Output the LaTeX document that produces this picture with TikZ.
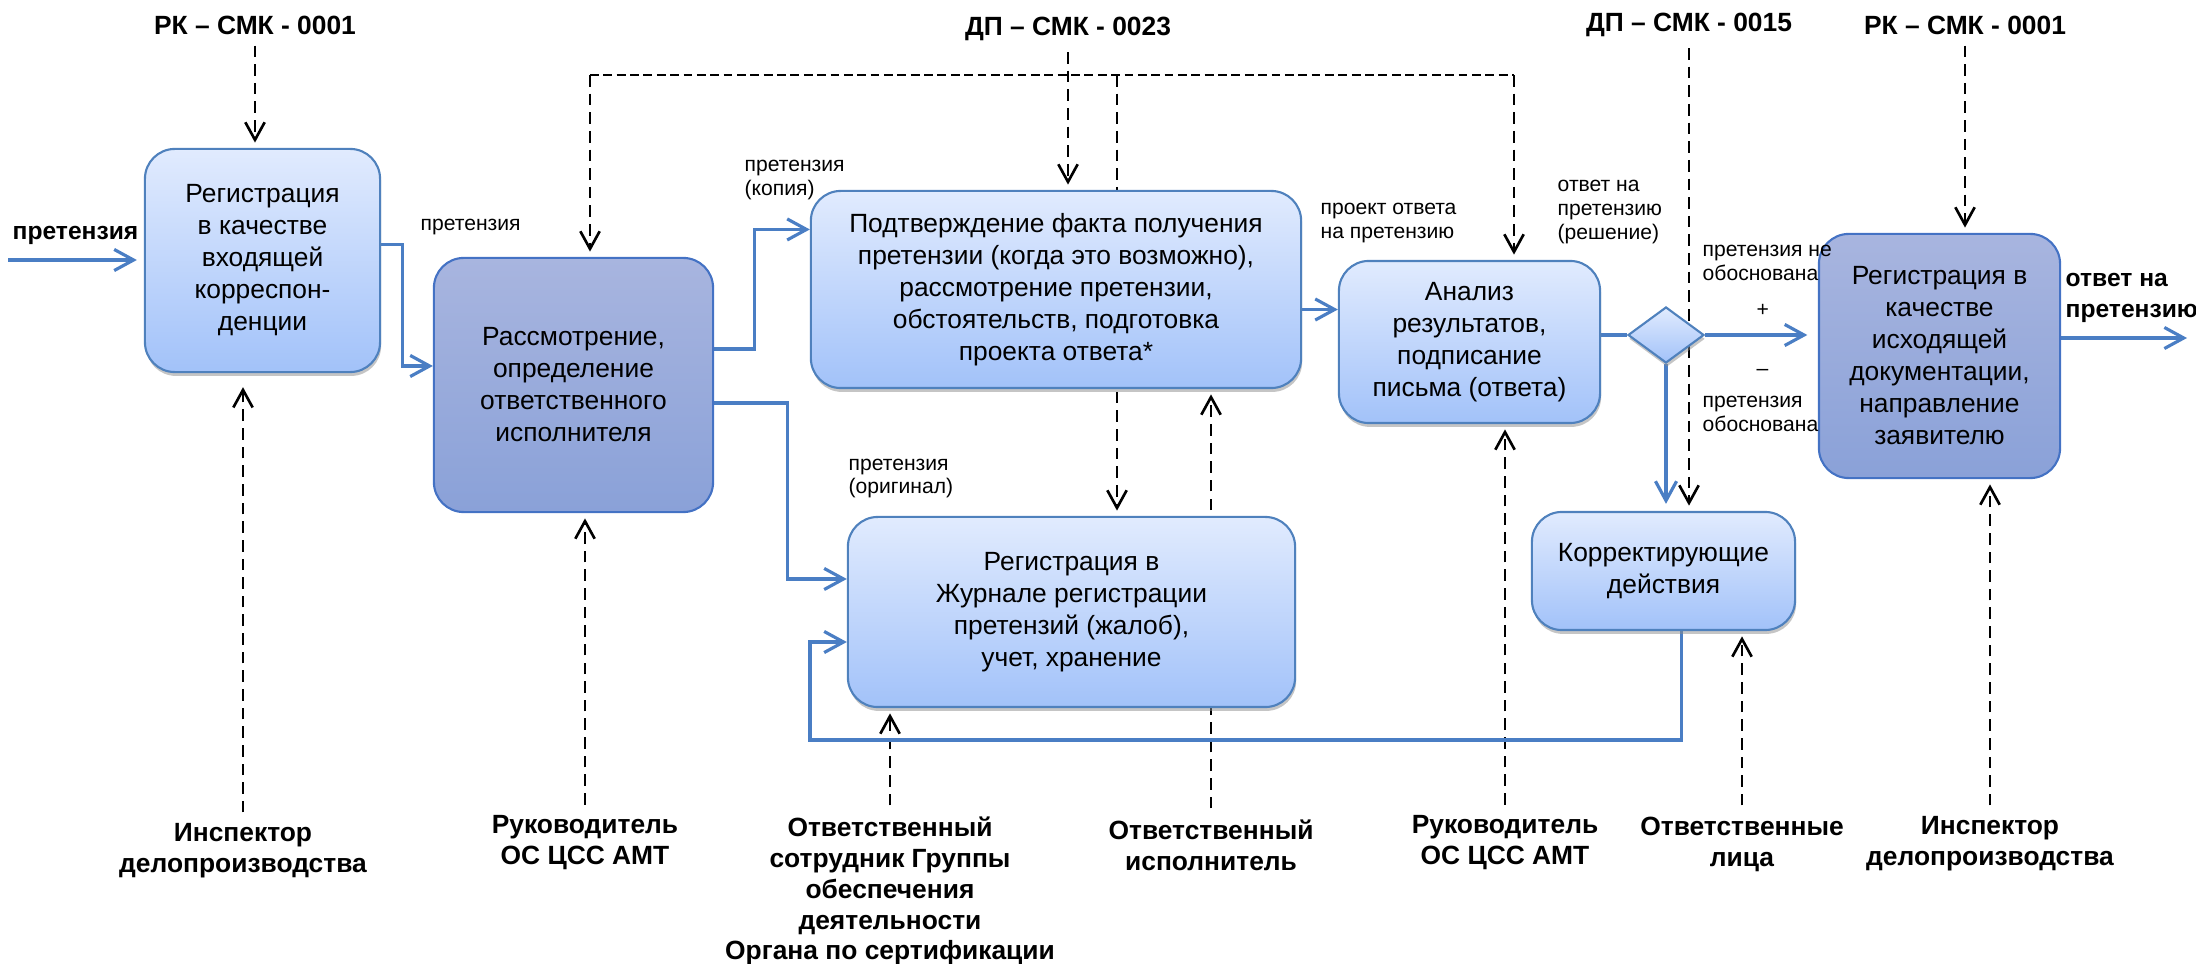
\documentclass[tikz,border=0pt]{standalone}
\usepackage{fontspec}
\setmainfont{Liberation Sans}
\usetikzlibrary{arrows.meta, calc, shapes.geometric, shadows, backgrounds}
\definecolor{lighttop}{HTML}{E1EBFE}
\definecolor{lightbottom}{HTML}{A2C2F9}
\definecolor{lightline}{HTML}{4F81BD}
\definecolor{darktop}{HTML}{A8B5DF}
\definecolor{darkbottom}{HTML}{8AA1D8}
\definecolor{darkline}{HTML}{4472C4}
\definecolor{flowblue}{HTML}{4A7EC4}
\newcommand{\boxtxt}{\fontsize{7.5}{9.1}\selectfont}
\newcommand{\notetxt}{\fontsize{6}{6.8}\selectfont}
\newcommand{\roletxt}{\fontsize{7.5}{8.8}\selectfont\bfseries}

\begin{document}
\begin{tikzpicture}[x=0.01cm, y=-0.01cm,
    lightbox/.style={rounded corners=8.5pt, draw=lightline, line width=0.6pt,
        top color=lighttop, bottom color=lightbottom, align=center, font=\boxtxt,
        drop shadow={shadow xshift=0.3pt, shadow yshift=-1.1pt, fill=black!45}},
    darkbox/.style={rounded corners=8.5pt, draw=darkline, line width=0.6pt,
        top color=darktop, bottom color=darkbottom, align=center, font=\boxtxt},
    decision/.style={diamond, draw=lightline, line width=0.6pt, aspect=1.36,
        minimum width=0.76cm, minimum height=0.56cm, inner sep=0pt,
        top color=lighttop, bottom color=lightbottom,
        drop shadow={shadow xshift=0.3pt, shadow yshift=-1.1pt, fill=black!45}},
    role/.style={align=center, font=\roletxt, inner sep=3pt},
    note/.style={align=left, font=\notetxt, inner sep=0pt, anchor=west},
    flow/.style={draw=flowblue, line width=0.9pt, -{Straight Barb[length=5.5pt,width=6pt]}},
    ctrl/.style={black, line width=0.75pt, dash pattern=on 3.3pt off 2pt,
        -{Straight Barb[length=5pt,width=5.5pt]}, shorten >=1.5pt},
    busline/.style={black, line width=0.45pt, dash pattern=on 2.5pt off 1.3pt}]
    \useasboundingbox (0,0) rectangle (2196,964);

    \node[lightbox, minimum width=2.35cm, minimum height=2.23cm] (reg) at (262.5,260.5)
        {Регистрация\\в качестве\\входящей\\корреспон-\\денции};
    \node[darkbox, minimum width=2.79cm, minimum height=2.54cm] (rass) at (573.5,385)
        {Рассмотрение,\\определение\\ответственного\\исполнителя};
    \node[lightbox, minimum width=4.9cm, minimum height=1.97cm] (podtv) at (1056,289.5)
        {Подтверждение факта получения\\претензии (когда это возможно),\\рассмотрение претензии,\\обстоятельств, подготовка\\проекта ответа*};
    \node[lightbox, minimum width=4.47cm, minimum height=1.9cm] (zhurnal) at (1071.5,612)
        {Регистрация в\\Журнале регистрации\\претензий (жалоб),\\учет, хранение};
    \node[lightbox, minimum width=2.61cm, minimum height=1.62cm] (analiz) at (1469.5,342)
        {Анализ\\результатов,\\подписание\\письма (ответа)};
    \node[decision] (dia) at (1666,335) {};
    \node[lightbox, minimum width=2.63cm, minimum height=1.18cm] (korr) at (1663.5,571)
        {Корректирующие\\действия};
    \node[darkbox, minimum width=2.41cm, minimum height=2.44cm] (iskh) at (1939.5,356)
        {Регистрация в\\качестве\\исходящей\\документации,\\направление\\заявителю};

    \node[role] (rk1) at (255,25) {РК – СМК - 0001};
    \node[role] (dp23) at (1068,29) {ДП – СМК - 0023};
    \node[role] (dp15) at (1689,25) {ДП – СМК - 0015};
    \node[role] (rk2) at (1965,25) {РК – СМК - 0001};

    \node[role] (insp1) at (243,851) {Инспектор\\делопроизводства};
    \node[role] (ruk1) at (585,843) {Руководитель\\ОС ЦСС АМТ};
    \node[role] (otvs) at (890,891) {Ответственный\\сотрудник Группы\\обеспечения\\деятельности\\Органа по сертификации};
    \node[role] (otvi) at (1211,845) {Ответственный\\исполнитель};
    \node[role] (ruk2) at (1505,843) {Руководитель\\ОС ЦСС АМТ};
    \node[role] (otvl) at (1742,844) {Ответственные\\лица};
    \node[role] (insp2) at (1990,844) {Инспектор\\делопроизводства};

    \node[note, font=\fontsize{7}{8}\selectfont\bfseries] (inlbl) at (12,235) {претензия};
    \node[note] (l1) at (420,227) {претензия};
    \node[note] (l2) at (744,180) {претензия\\(копия)};
    \node[note] (l3) at (848,478.5) {претензия\\(оригинал)};
    \node[note] (l4) at (1320,223) {проект ответа\\на претензию};
    \node[note] (l5) at (1557,212) {ответ на\\претензию\\(решение)};
    \node[note] (l6) at (1702,262.5) {претензия не\\обоснована};
    \node[note] (l7) at (1702,413.5) {претензия\\обоснована};
    \node[note] (plus) at (1756,310) {+};
    \node[note] (minus) at (1756,372) {–};
    \node[note, font=\fontsize{7}{8.8}\selectfont\bfseries] (outlbl) at (2065,297.5) {ответ на\\претензию};

    \coordinate (inp) at (8,260);
    \coordinate (outp) at (2187,338);
    \coordinate (fbk) at (810,740);
    \coordinate (busL) at (590,75);
    \coordinate (busM) at (1117,75);
    \coordinate (busR) at (1514,75);

    \begin{pgfonlayer}{background}
    \draw[busline] (busL) -- (busR);
    \draw[ctrl] (busL) -- (busL |- rass.north);
    \draw[ctrl] (busM) -- (busM |- zhurnal.north);
    \draw[ctrl] (busR) -- (busR |- analiz.north);
    \draw[ctrl] (rk1.south) -- (rk1.south |- reg.north);
    \draw[ctrl] (dp23.south) -- (dp23.south |- podtv.north);
    \draw[ctrl] (dp15.south) -- (dp15.south |- korr.north);
    \draw[ctrl] (rk2.south) -- (rk2.south |- iskh.north);

    \draw[ctrl, shorten >=4pt] (insp1.north) -- (insp1.north |- reg.south);
    \draw[ctrl] (ruk1.north) -- (ruk1.north |- rass.south);
    \draw[ctrl] (otvs.north) -- (otvs.north |- zhurnal.south);
    \draw[ctrl] (otvi.north) -- (otvi.north |- podtv.south);
    \draw[ctrl] (ruk2.north) -- (ruk2.north |- analiz.south);
    \draw[ctrl] (otvl.north) -- (otvl.north |- korr.south);
    \draw[ctrl] (insp2.north) -- (insp2.north |- iskh.south);

    \draw[flow, shorten >=2pt] (inp) -- (inp -| reg.west);
    \draw[flow] ([yshift=0.16cm]reg.east) -- ++(21,0) |- ([yshift=0.19cm]rass.west);
    \draw[flow] ([yshift=0.36cm]rass.east) -- ++(40,0) |- ([yshift=0.6cm]podtv.west);
    \draw[flow] ([yshift=-0.18cm]rass.east) -- ++(73,0) |- ([yshift=0.33cm]zhurnal.west);
    \draw[flow] ([yshift=-0.2cm]podtv.east) -- ([yshift=-0.2cm]podtv.east -| analiz.west);
    \draw[draw=flowblue, line width=0.9pt] (dia.west -| analiz.east) -- (dia.west);
    \draw[flow, shorten >=3pt] (dia.east) -- (dia.east -| iskh.west);
    \draw[flow, shorten >=2pt] (dia.south) -- (dia.south |- korr.north);
    \draw[flow] ([xshift=0.18cm]korr.south) |- (fbk) |- ([yshift=-0.3cm]zhurnal.west);
    \draw[flow] (iskh.east |- outp) -- (outp);
    \end{pgfonlayer}
\end{tikzpicture}
\end{document}
